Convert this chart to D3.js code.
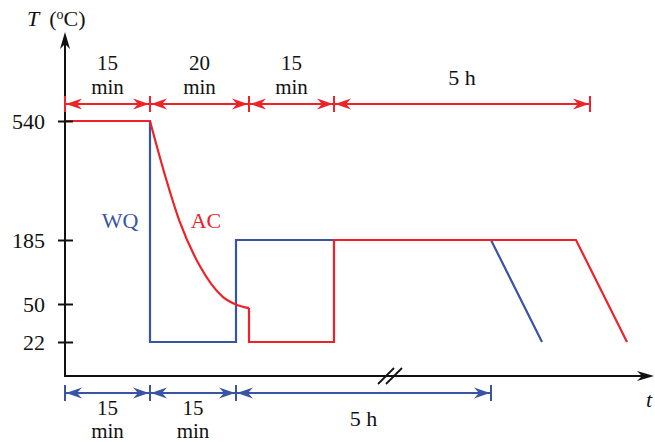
<!DOCTYPE html>
<html>
<head>
<meta charset="utf-8">
<script src="https://cdn.jsdelivr.net/npm/d3@7"></script>
<style>
  body { margin: 0; background: #fff; }
  svg text { font-family: "Liberation Serif", "Times New Roman", serif; font-size: 22px; }
</style>
</head>
<body>
<div id="chart"></div>
<script>
// temperature ticks (schematic axis)
var yTicks = [540, 185, 50, 22];

// time knots in minutes (axis is broken, so it is schematic)
var timeKnots = [0, 15, 30, 35, 50, 330, 342, 347, 350, 360];

// WQ: water quench route
var wqTime = [0, 15, 15, 30, 30, 330, 342];
var wqTemp = [540, 540, 22, 22, 185, 185, 22];

// AC: air cooling route
var acHoldTime = [0, 15];
var acHoldTemp = [540, 540];
var acCoolTime = [15, 17.6, 20.2, 23.7, 27.7, 30.4, 35];
var acCoolTemp = [540, 379, 239, 130, 65, 49.3, 47];
var acRestTime = [35, 35, 50, 50, 347, 360];
var acRestTemp = [47, 22, 22, 185, 185, 22];

// duration annotations
var topSpans = [[0, 15], [15, 35], [35, 50], [50, 350]];
var topLabels = [["15", "min"], ["20", "min"], ["15", "min"], ["5 h"]];
var bottomSpans = [[0, 15], [15, 30], [30, 330]];
var bottomLabels = [["15", "min"], ["15", "min"], ["5 h"]];

var red = "#ee2229", blue = "#3a54a4";

var width = 655, height = 442;
var svg = d3.select("#chart").append("svg")
    .attr("width", width)
    .attr("height", height);

var x = d3.scaleLinear()
    .domain(timeKnots)
    .range([65, 150, 236, 249, 334, 491, 542, 576, 590, 627]);

var y = d3.scaleLinear()
    .domain([22, 50, 185, 540])
    .range([342, 304, 240, 121]);

var x0 = x(0), yAxisY = 376;

function pts(t, v) {
    return t.map(function(d, i) { return [d, v[i]]; });
}

var line = d3.line()
    .x(function(d) { return x(d[0]); })
    .y(function(d) { return y(d[1]); });

var curve = d3.line()
    .x(function(d) { return x(d[0]); })
    .y(function(d) { return y(d[1]); })
    .curve(d3.curveMonotoneX);

// markers for dimension arrows
var defs = svg.append("defs");
[["redHead", red], ["blueHead", blue]].forEach(function(m) {
    defs.append("marker")
        .attr("id", m[0])
        .attr("markerUnits", "userSpaceOnUse")
        .attr("viewBox", "-17 -7 18 14")
        .attr("markerWidth", 18)
        .attr("markerHeight", 14)
        .attr("refX", 0)
        .attr("refY", 0)
        .attr("orient", "auto-start-reverse")
        .append("path")
        .attr("d", "M0,0L-16,-5.5L-11,0L-16,5.5Z")
        .attr("fill", m[1]);
});

// WQ line
svg.append("path")
    .datum(pts(wqTime, wqTemp))
    .attr("d", line)
    .attr("fill", "none")
    .attr("stroke", blue)
    .attr("stroke-width", 2.2);

// AC line
var acG = svg.append("g")
    .attr("fill", "none")
    .attr("stroke", red)
    .attr("stroke-width", 2.2);
acG.append("path").datum(pts(acHoldTime, acHoldTemp)).attr("d", line);
acG.append("path").datum(pts(acCoolTime, acCoolTemp)).attr("d", curve);
acG.append("path").datum(pts(acRestTime, acRestTemp)).attr("d", line);

// axes
var yAxis = d3.axisLeft(y)
    .tickValues(yTicks)
    .tickSize(7)
    .tickPadding(13)
    .tickFormat(d3.format("d"));

var yg = svg.append("g")
    .attr("transform", "translate(" + x0 + ",0)")
    .call(yAxis);
yg.select(".domain").remove();
yg.selectAll(".tick line")
    .attr("x1", 8)
    .attr("stroke", "#111")
    .attr("stroke-width", 2);
yg.selectAll(".tick text")
    .attr("fill", "#111")
    .style("font-size", "22px")
    .attr("dy", "0.33em");

svg.append("line")
    .attr("x1", x0).attr("y1", yAxisY)
    .attr("x2", x0).attr("y2", 40)
    .attr("stroke", "#111").attr("stroke-width", 2);
svg.append("line")
    .attr("x1", x0 - 1).attr("y1", yAxisY)
    .attr("x2", 645).attr("y2", yAxisY)
    .attr("stroke", "#111").attr("stroke-width", 2);
svg.append("path")
    .attr("d", "M" + x0 + ",32L" + (x0 - 5) + ",49L" + x0 + ",44L" + (x0 + 5) + ",49Z")
    .attr("fill", "#111");
svg.append("path")
    .attr("d", "M654," + yAxisY + "L637," + (yAxisY - 5) + "L642," + yAxisY + "L637," + (yAxisY + 5) + "Z")
    .attr("fill", "#111");

// break mark on time axis
[382, 390].forEach(function(bx) {
    svg.append("line")
        .attr("x1", bx - 4).attr("y1", yAxisY + 8)
        .attr("x2", bx + 12).attr("y2", yAxisY - 8)
        .attr("stroke", "#111").attr("stroke-width", 1.8);
});

// axis titles
var yt = svg.append("text").attr("x", 27).attr("y", 26).attr("fill", "#111");
yt.append("tspan").style("font-style", "italic").text("T");
yt.append("tspan").attr("dx", 10).text("(");
yt.append("tspan").style("font-size", "14px").attr("dy", -7).text("o");
yt.append("tspan").attr("dy", 7).text("C)");

svg.append("text")
    .attr("x", 646).attr("y", 407)
    .style("font-style", "italic")
    .attr("fill", "#111")
    .text("t");

// route labels
svg.append("text").attr("x", 120).attr("y", 228)
    .attr("text-anchor", "middle").attr("fill", blue).text("WQ");
svg.append("text").attr("x", 206).attr("y", 228)
    .attr("text-anchor", "middle").attr("fill", red).text("AC");

// duration annotations
function spans(data, labels, ay, color, head, below) {
    var g = svg.append("g");
    data.forEach(function(s, i) {
        var a = x(s[0]), b = x(s[1]);
        g.append("line")
            .attr("x1", a + 1).attr("x2", b - 1)
            .attr("y1", ay).attr("y2", ay)
            .attr("stroke", color).attr("stroke-width", 2)
            .attr("marker-start", "url(#" + head + ")")
            .attr("marker-end", "url(#" + head + ")");
        [a, b].forEach(function(px) {
            g.append("line")
                .attr("x1", px).attr("x2", px)
                .attr("y1", ay - 8).attr("y2", ay + 8)
                .attr("stroke", color).attr("stroke-width", 2);
        });
        var lab = labels[i], cx = (a + b) / 2;
        if (lab.length === 2) {
            var ys = below ? [ay + 22, ay + 45] : [ay - 34, ay - 10];
            lab.forEach(function(t, j) {
                g.append("text").attr("x", cx).attr("y", ys[j])
                    .attr("text-anchor", "middle").attr("fill", "#111")
                    .style("font-size", "21px").text(t);
            });
        } else {
            g.append("text").attr("x", cx).attr("y", below ? ay + 33 : ay - 19)
                .attr("text-anchor", "middle").attr("fill", "#111").text(lab[0]);
        }
    });
}

spans(topSpans, topLabels, 104, red, "redHead", false);
spans(bottomSpans, bottomLabels, 393, blue, "blueHead", true);
</script>
</body>
</html>
